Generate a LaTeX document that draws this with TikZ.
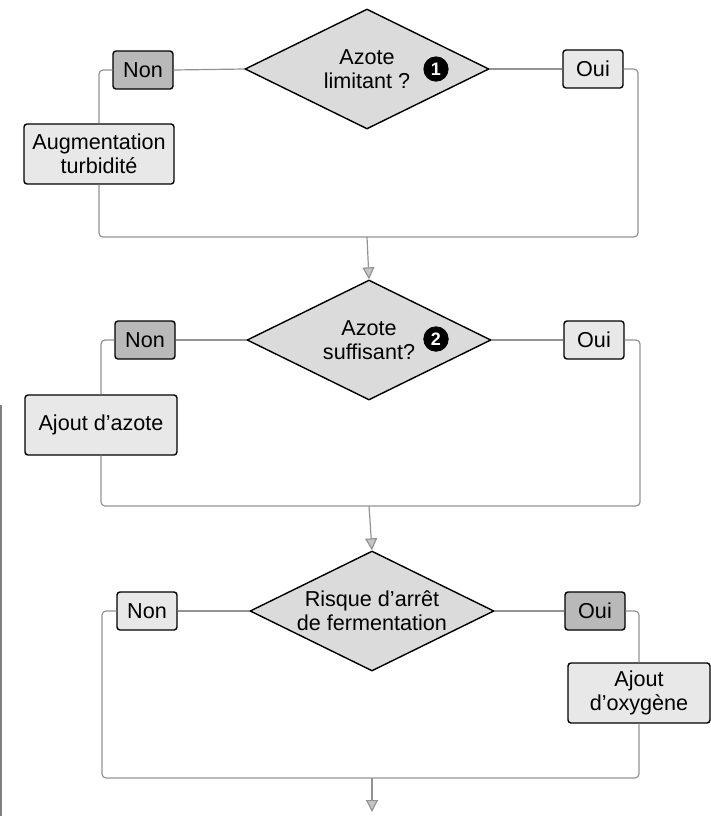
\documentclass[tikz,border=0pt]{standalone}
\usepackage{fontspec}
\setmainfont{Liberation Sans}
\usetikzlibrary{shapes.geometric,arrows.meta}

\begin{document}
\begin{tikzpicture}[x=0.5pt, y=-0.5pt,
	question/.style={diamond, draw, fill=gray!28, line width=0.7pt, inner sep=0pt, aspect=2, minimum width=122pt, minimum height=60pt, align=center},
	reponse/.style={draw, rounded corners=1.5pt, fill=gray!18, line width=0.7pt, minimum width=30pt, minimum height=19pt, inner sep=0pt},
	choisi/.style={reponse, fill=gray!55},
	action/.style={draw, rounded corners=1.5pt, fill=gray!18, line width=0.7pt, minimum height=30pt, inner sep=0pt, align=center},
	lien/.style={gray!85, line width=0.6pt, rounded corners=2pt},
	fleche/.style={lien, -{Triangle[width=6pt, length=6pt, fill=gray!45]}},
	pastille/.style={circle, draw=black, fill=black, text=white, font=\bfseries\fontsize{9}{9}\selectfont, inner sep=1.5pt, minimum size=12pt},
	font=\fontsize{10.8}{12}\selectfont]
	\useasboundingbox (0, 0) rectangle (711, 816);

	% bord de page
	\draw[gray, line width=1pt] (1, 405) -- (1, 816);

	% question 1
	\node[question] (q1) at (367, 69) {Azote\\limitant ?};
	\node[pastille] (b1) at (436, 69) {1};
	\node[choisi] (non1) at (143, 70) {Non};
	\node[reponse] (oui1) at (593, 69) {Oui};
	\node[action, minimum width=75pt] (aug) at (99, 154) {Augmentation\\turbidité};
	\coordinate (m1) at (367, 237);
	\coordinate (d1) at (638, 237);
	\draw[lien] (q1.west) -- (non1.east);
	\draw[lien] (q1.east) -- (oui1.west);
	\draw[lien] (non1.west) -| (aug.north);
	\draw[lien] (aug.south) |- (m1);
	\draw[lien] (oui1.east) -| (d1) -- (m1);

	% question 2
	\node[question] (q2) at (369, 340) {Azote\\suffisant?};
	\node[pastille] (b2) at (436, 339) {2};
	\node[choisi] (non2) at (145, 340) {Non};
	\node[reponse] (oui2) at (594, 340) {Oui};
	\node[action, minimum width=76pt] (azote) at (101, 425) {Ajout d’azote};
	\coordinate (m2) at (369, 506);
	\coordinate (d2) at (640, 506);
	\draw[fleche] (m1) -- (q2.north);
	\draw[lien] (q2.west) -- (non2.east);
	\draw[lien] (q2.east) -- (oui2.west);
	\draw[lien] (non2.west) -| (azote.north);
	\draw[lien] (azote.south) |- (m2);
	\draw[lien] (oui2.east) -| (d2) -- (m2);

	% question 3
	\node[question] (q3) at (372, 611) {Risque d’arrêt\\de fermentation};
	\node[reponse] (non3) at (147, 611) {Non};
	\node[choisi] (oui3) at (595, 611) {Oui};
	\node[action, minimum width=71pt] (oxy) at (639, 693) {Ajout\\d’oxygène};
	\coordinate (m3) at (372, 778);
	\coordinate (g3) at (102, 778);
	\coordinate (fin) at (372, 812);
	\draw[fleche] (m2) -- (q3.north);
	\draw[lien] (q3.west) -- (non3.east);
	\draw[lien] (q3.east) -- (oui3.west);
	\draw[lien] (non3.west) -| (g3) -- (m3);
	\draw[lien] (oui3.east) -| (oxy.north);
	\draw[lien] (oxy.south) |- (m3);
	\draw[fleche] (m3) -- (fin);
\end{tikzpicture}
\end{document}
